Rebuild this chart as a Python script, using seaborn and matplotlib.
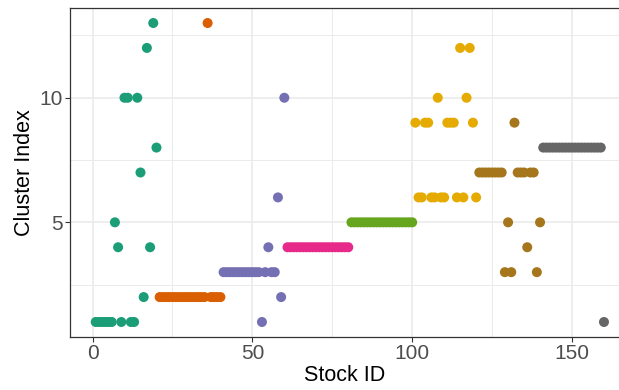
import numpy as np
import pandas as pd
import matplotlib
matplotlib.use("Agg")
import matplotlib.pyplot as plt
from matplotlib.ticker import FixedLocator
import seaborn as sns

# Cluster assignment for each stock, listed in blocks of twenty stocks
block_a = [1, 1, 1, 1, 1, 1, 5, 4, 1, 10, 10, 1, 1, 10, 7, 2, 12, 4, 13, 8]
block_b = [2, 2, 2, 2, 2, 2, 2, 2, 2, 2, 2, 2, 2, 2, 2, 13, 2, 2, 2, 2]
block_c = [3, 3, 3, 3, 3, 3, 3, 3, 3, 3, 3, 3, 1, 3, 4, 3, 3, 6, 2, 10]
block_d = [4, 4, 4, 4, 4, 4, 4, 4, 4, 4, 4, 4, 4, 4, 4, 4, 4, 4, 4, 4]
block_e = [5, 5, 5, 5, 5, 5, 5, 5, 5, 5, 5, 5, 5, 5, 5, 5, 5, 5, 5, 5]
block_f = [9, 6, 6, 9, 9, 6, 6, 10, 6, 6, 9, 9, 9, 6, 12, 6, 10, 12, 9, 6]
block_g = [7, 7, 7, 7, 7, 7, 7, 7, 3, 5, 3, 9, 7, 7, 7, 4, 7, 7, 3, 5]
block_h = [8, 8, 8, 8, 8, 8, 8, 8, 8, 8, 8, 8, 8, 8, 8, 8, 8, 8, 8, 1]

blocks = [block_a, block_b, block_c, block_d, block_e, block_f, block_g, block_h]
block_names = ["A", "B", "C", "D", "E", "F", "G", "H"]

clusters = [c for b in blocks for c in b]
groups = [name for name, b in zip(block_names, blocks) for _ in b]
stock_ids = list(range(1, len(clusters) + 1))

df = pd.DataFrame({"Stock ID": stock_ids, "Cluster Index": clusters, "group": groups})

palette = ["#1B9E77", "#D95F02", "#7570B3", "#E7298A",
           "#66A61E", "#E6AB02", "#A6761D", "#666666"]

sns.set_theme(style="white")
plt.rcParams["font.family"] = ["Liberation Sans", "DejaVu Sans"]

fig = plt.figure(figsize=(6.19, 3.90), dpi=100)
ax = fig.add_axes([0.1136, 0.1367, 0.8864, 0.842])

sns.scatterplot(data=df, x="Stock ID", y="Cluster Index", hue="group",
                palette=palette, s=52, linewidth=0, alpha=1,
                legend=False, ax=ax, zorder=3)

ax.set_xlim(-6.95, 164.7)
ax.set_ylim(0.41, 13.59)

ax.xaxis.set_major_locator(FixedLocator([0, 50, 100, 150]))
ax.xaxis.set_minor_locator(FixedLocator([25, 75, 125]))
ax.yaxis.set_major_locator(FixedLocator([5, 10]))
ax.yaxis.set_minor_locator(FixedLocator([2.5, 7.5, 12.5]))

ax.grid(which="major", color="#EBEBEB", linewidth=1.2, zorder=0)
ax.grid(which="minor", color="#EBEBEB", linewidth=0.7, zorder=0)
ax.set_axisbelow(True)

for side in ["left", "bottom", "top"]:
    ax.spines[side].set_color("#333333")
    ax.spines[side].set_linewidth(0.9)
ax.spines["right"].set_visible(False)

ax.tick_params(axis="both", which="major", length=3.5, width=0.8,
               color="#333333", labelsize=15, labelcolor="#4D4D4D",
               bottom=True, left=True, pad=2)
ax.tick_params(axis="both", which="minor", length=0)

ax.set_xlabel("Stock ID", fontsize=15.5, color="black", labelpad=1)
ax.set_ylabel("Cluster Index", fontsize=15.5, color="black", labelpad=3)

fig.savefig("out.png", dpi=100, facecolor="white")
